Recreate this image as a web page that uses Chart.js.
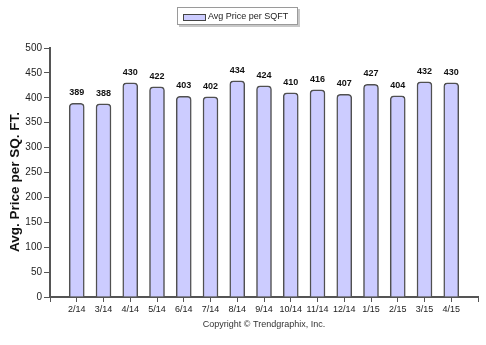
<!DOCTYPE html>
<html>
<head>
<meta charset="utf-8">
<script src="https://cdn.jsdelivr.net/npm/chart.js@4.4.1/dist/chart.umd.min.js"></script>
<style>
  html, body { margin: 0; padding: 0; background: #fff; }
  #wrap { width: 486px; height: 345px; }
</style>
</head>
<body>
<div id="wrap"><canvas id="myChart" width="486" height="345"></canvas></div>
<script>
const months = ['2/14', '3/14', '4/14', '5/14', '6/14', '7/14', '8/14', '9/14',
  '10/14', '11/14', '12/14', '1/15', '2/15', '3/15', '4/15'];
const pricePerSqft = [389, 388, 430, 422, 403, 402, 434, 424, 410, 416, 407, 427, 404, 432, 430];
const seriesName = 'Avg Price per SQFT';
const yTitle = 'Avg. Price per SQ. FT.';
const credit = 'Copyright \u00A9 Trendgraphix, Inc.';

const FONT = "'Liberation Sans', Arial, sans-serif";

// empty slot on each side so the bars sit one step in from the axis ends
const labels = [''].concat(months, ['']);
const values = [null].concat(pricePerSqft, [null]);

// value on top of each bar, boxed legend, y title and footer text
const extras = {
  id: 'extras',
  afterDatasetsDraw(chart) {
    const ctx = chart.ctx;
    const meta = chart.getDatasetMeta(0);
    ctx.save();
    ctx.font = 'bold 9px ' + FONT;
    ctx.fillStyle = '#111';
    ctx.textAlign = 'center';
    ctx.textBaseline = 'bottom';
    meta.data.forEach((bar, i) => {
      const v = values[i];
      if (v == null) return;
      ctx.fillText(String(v), bar.x, bar.y - 6);
    });
    ctx.restore();
  },
  afterDraw(chart) {
    const ctx = chart.ctx;
    ctx.save();

    // legend box
    ctx.fillStyle = '#c8c8c8';
    ctx.fillRect(179, 9, 121, 18);
    ctx.fillStyle = '#fff';
    ctx.fillRect(177, 7, 121, 18);
    ctx.strokeStyle = '#9a9a9a';
    ctx.lineWidth = 1;
    ctx.strokeRect(177.5, 7.5, 120, 17);
    ctx.fillStyle = '#ccccff';
    ctx.fillRect(183, 14, 23, 7);
    ctx.strokeStyle = '#444';
    ctx.strokeRect(183.5, 14.5, 22, 6);
    ctx.fillStyle = '#222';
    ctx.font = '9px ' + FONT;
    ctx.textBaseline = 'middle';
    ctx.textAlign = 'left';
    ctx.fillText(seriesName, 208, 17);

    // y axis title
    ctx.save();
    ctx.translate(15, 182);
    ctx.rotate(-Math.PI / 2);
    ctx.font = 'bold 13.5px ' + FONT;
    ctx.fillStyle = '#111';
    ctx.textAlign = 'center';
    ctx.textBaseline = 'middle';
    ctx.fillText(yTitle, 0, 0);
    ctx.restore();

    // footer
    ctx.font = '9px ' + FONT;
    ctx.fillStyle = '#333';
    ctx.textAlign = 'center';
    ctx.textBaseline = 'middle';
    ctx.fillText(credit, 264, 325);
    ctx.restore();
  }
};

const ctx = document.getElementById('myChart');
const myChart = new Chart(ctx, {
  type: 'bar',
  data: {
    labels: labels,
    datasets: [{
      label: seriesName,
      data: values,
      backgroundColor: '#ccccff',
      borderColor: '#505050',
      borderWidth: 1.5,
      borderSkipped: 'bottom',
      borderRadius: { topLeft: 4, topRight: 4, bottomLeft: 0, bottomRight: 0 },
      barThickness: 15,
    }],
  },
  options: {
    responsive: false,
    animation: false,
    layout: {
      padding: { top: 48, right: 8, left: 0, bottom: 0 },
    },
    plugins: {
      legend: { display: false },
      tooltip: { enabled: false },
    },
    scales: {
      x: {
        offset: false,
        grid: {
          offset: false,
          drawOnChartArea: false,
          tickLength: 5,
          tickColor: '#555',
          tickWidth: 1,
        },
        border: { color: '#555', width: 2 },
        ticks: {
          autoSkip: false,
          maxRotation: 0,
          color: '#222',
          font: { family: FONT, size: 9 },
          padding: 2,
        },
        afterFit(scale) { scale.height = 48; },
      },
      y: {
        min: 0,
        max: 500,
        grid: {
          drawOnChartArea: false,
          tickLength: 6,
          tickColor: '#555',
          tickWidth: 1,
        },
        border: { color: '#555', width: 2 },
        ticks: {
          stepSize: 50,
          color: '#222',
          font: { family: FONT, size: 10 },
          padding: 2,
        },
        afterFit(scale) { scale.width = 50; },
      },
    },
  },
  plugins: [extras],
});
</script>
</body>
</html>
